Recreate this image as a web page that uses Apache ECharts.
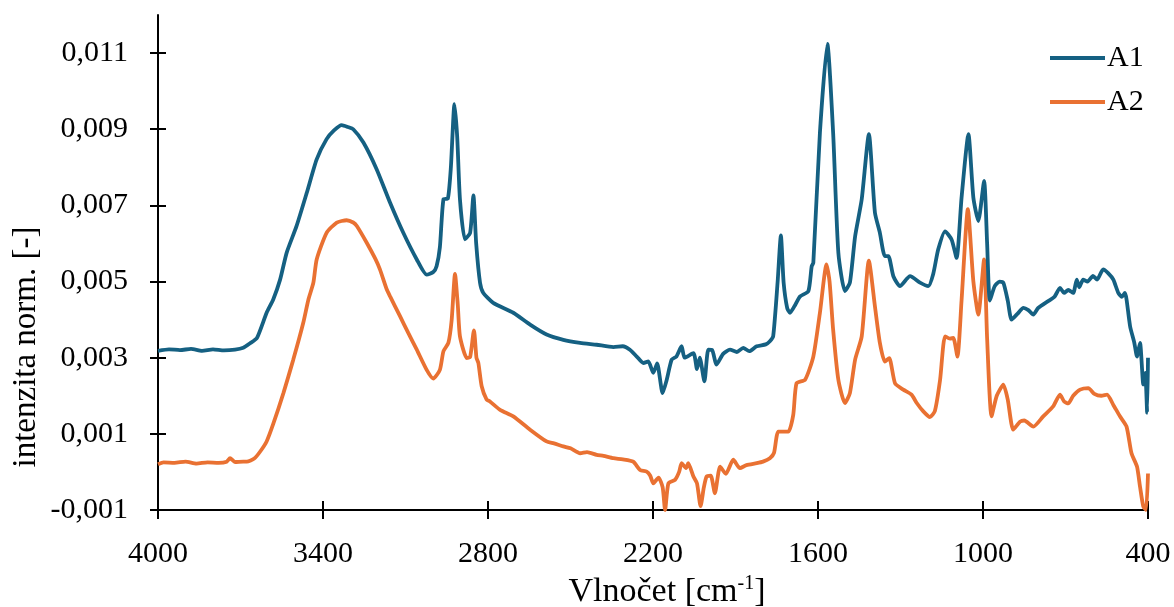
<!DOCTYPE html>
<html>
<head>
<meta charset="utf-8">
<script src="https://cdn.jsdelivr.net/npm/echarts@6/dist/echarts.min.js"></script>
<style>html,body{margin:0;padding:0;background:#fff}#c{width:1174px;height:607px}</style>
</head>
<body>
<div id="c"></div>
<script>
// ---- data (wavenumber [cm-1] and normalized intensity) ----
const seriesNames = ['A1', 'A2'];
const xTicks = [4000, 3400, 2800, 2200, 1600, 1000, 400];
const yTicks = [-0.001, 0.001, 0.003, 0.005, 0.007, 0.009, 0.011];

const a1Wave = [4000,3960,3920,3880,3840,3800,3760,3720,3690,3665,3640,3605,3581,3556,3532,3496,3459,3423,3387,3360,3332,3310,3290,3253,3205,3156,3108,3059,3023,2999,2987,2975,2962,2946,2935,2922,2912,2902,2884,2865,2853,2843,2829,2817,2781,2708,2647,2587,2526,2465,2405,2344,2310,2284,2259,2235,2217,2199,2185,2165,2150,2132,2115,2096,2085,2053,2040,2030,2013,1999,1985,1969,1945,1920,1895,1872,1850,1823,1790,1775,1763,1747,1735,1725,1712,1702,1682,1665,1635,1623,1617,1593,1566,1545,1526,1502,1484,1465,1441,1415,1393,1375,1357,1344,1326,1302,1265,1229,1199,1181,1163,1138,1114,1096,1078,1053,1035,1017,996,985,975,958,940,926,910,896,875,853,835,817,800,781,760,740,720,705,690,672,659,650,636,620,600,585,563,545,526,508,495,484,478,465,450,440,429,417,410,403,400];
const a1Val = [0.00318,0.00322,0.00320,0.00323,0.00318,0.00322,0.00319,0.00321,0.00326,0.00338,0.00352,0.00418,0.00453,0.00505,0.00576,0.00646,0.00733,0.00821,0.00874,0.00897,0.00911,0.00906,0.00900,0.00865,0.00795,0.00707,0.00628,0.00558,0.00518,0.00525,0.00540,0.00590,0.00716,0.00718,0.00800,0.00966,0.00880,0.00716,0.00611,0.00628,0.00726,0.00600,0.00497,0.00470,0.00444,0.00418,0.00387,0.00361,0.00347,0.00339,0.00334,0.00328,0.00330,0.00321,0.00303,0.00286,0.00290,0.00260,0.00285,0.00207,0.00242,0.00295,0.00303,0.00330,0.00300,0.00312,0.00270,0.00300,0.00238,0.00321,0.00320,0.00282,0.00310,0.00321,0.00315,0.00326,0.00317,0.00330,0.00335,0.00343,0.00356,0.00497,0.00621,0.00497,0.00430,0.00418,0.00440,0.00461,0.00475,0.00540,0.00549,0.00891,0.01124,0.00891,0.00576,0.00475,0.00497,0.00619,0.00716,0.00887,0.00681,0.00628,0.00567,0.00567,0.00514,0.00488,0.00514,0.00497,0.00488,0.00520,0.00584,0.00632,0.00610,0.00562,0.00720,0.00887,0.00720,0.00659,0.00764,0.00600,0.00450,0.00487,0.00500,0.00497,0.00450,0.00400,0.00415,0.00431,0.00425,0.00413,0.00430,0.00440,0.00450,0.00460,0.00483,0.00470,0.00478,0.00470,0.00505,0.00485,0.00505,0.00500,0.00515,0.00505,0.00532,0.00522,0.00505,0.00470,0.00460,0.00470,0.00453,0.00382,0.00340,0.00303,0.00339,0.00230,0.00260,0.00155,0.00300];

const a2Wave = [4000,3980,3940,3900,3860,3820,3780,3750,3738,3720,3690,3677,3650,3629,3605,3580,3544,3508,3472,3453,3435,3423,3387,3350,3314,3290,3277,3241,3210,3193,3168,3156,3120,3090,3059,3023,2999,2975,2962,2944,2932,2920,2910,2902,2877,2865,2851,2842,2835,2823,2805,2793,2756,2708,2647,2587,2560,2526,2500,2465,2440,2405,2380,2344,2310,2272,2247,2223,2210,2199,2180,2165,2156,2144,2120,2105,2096,2080,2072,2053,2040,2027,2015,2005,1990,1975,1956,1935,1908,1884,1860,1823,1800,1775,1760,1744,1708,1690,1678,1647,1617,1593,1569,1558,1545,1526,1502,1484,1465,1441,1415,1393,1375,1357,1341,1320,1290,1260,1241,1217,1193,1175,1156,1138,1120,1108,1093,1078,1055,1035,1017,996,985,969,950,926,910,890,865,850,817,781,745,720,705,690,672,647,617,595,570,549,526,502,478,460,440,429,417,407,400];
const a2Val = [0.00020,0.00025,0.00024,0.00027,0.00022,0.00025,0.00024,0.00027,0.00036,0.00026,0.00027,0.00027,0.00035,0.00053,0.00080,0.00128,0.00207,0.00295,0.00391,0.00453,0.00497,0.00558,0.00628,0.00655,0.00661,0.00655,0.00646,0.00602,0.00560,0.00532,0.00479,0.00461,0.00409,0.00365,0.00321,0.00268,0.00245,0.00268,0.00317,0.00339,0.00400,0.00520,0.00440,0.00356,0.00299,0.00302,0.00372,0.00300,0.00286,0.00225,0.00190,0.00185,0.00163,0.00146,0.00111,0.00080,0.00075,0.00067,0.00062,0.00049,0.00052,0.00045,0.00042,0.00036,0.00033,0.00027,0.00005,0.00001,-0.00010,-0.00030,-0.00015,-0.00040,-0.00100,-0.00030,-0.00021,0.00000,0.00023,0.00010,0.00023,-0.00012,-0.00030,-0.00090,-0.00040,-0.00012,-0.00010,-0.00056,0.00014,-0.00005,0.00032,0.00010,0.00018,0.00023,0.00027,0.00036,0.00050,0.00106,0.00106,0.00150,0.00233,0.00242,0.00303,0.00418,0.00545,0.00500,0.00374,0.00242,0.00181,0.00207,0.00295,0.00356,0.00555,0.00435,0.00339,0.00290,0.00299,0.00233,0.00216,0.00203,0.00181,0.00159,0.00144,0.00160,0.00242,0.00356,0.00350,0.00352,0.00303,0.00450,0.00690,0.00500,0.00413,0.00558,0.00350,0.00146,0.00200,0.00229,0.00190,0.00111,0.00132,0.00135,0.00119,0.00146,0.00172,0.00203,0.00185,0.00180,0.00200,0.00216,0.00220,0.00205,0.00200,0.00203,0.00176,0.00146,0.00119,0.00049,0.00014,-0.00039,-0.00091,-0.00100,-0.00004];

const colors = ['#156082', '#E97132'];
const FONT = '"Liberation Serif", "Times New Roman", serif';

function pairs(xs, ys) { return xs.map((x, i) => [x, ys[i]]); }
const fmtY = v => (Math.round(v * 1000) / 1000).toFixed(3).replace('.', ',');
const fmtX = v => String(Math.round(v));

const chart = echarts.init(document.getElementById('c'), null, { renderer: 'canvas' });
const axisLineStyle = { color: '#000', width: 2 };
const baseX = { type: 'value', min: 400, max: 4000, inverse: true, splitLine: { show: false } };
const baseY = { type: 'value', min: -0.001, max: 0.012, splitLine: { show: false } };

chart.setOption({
  animation: false,
  backgroundColor: '#fff',
  textStyle: { fontFamily: FONT },
  grid: { left: 158, right: 26, top: 15, bottom: 97, containLabel: false, outerBoundsMode: 'none' },
  legend: {
    data: seriesNames, orient: 'vertical', left: 1045, top: 38,
    itemWidth: 55, itemHeight: 4, icon: 'rect', itemGap: 14,
    textStyle: { fontFamily: FONT, fontSize: 30, color: '#000', lineHeight: 30, padding: [0, 0, 0, -3] }
  },
  xAxis: [
    Object.assign({}, baseX, {
      position: 'bottom',
      axisLine: { show: true, onZero: false, lineStyle: axisLineStyle },
      axisTick: { show: true, length: 9, lineStyle: axisLineStyle, customValues: xTicks },
      axisLabel: { customValues: xTicks, fontSize: 30, color: '#000', margin: 29, fontFamily: FONT, formatter: fmtX },
      name: '{n|Vlnočet [cm}{s|-1}{n|]}', nameLocation: 'middle', nameGap: 63,
      nameTextStyle: {
        padding: [0, 0, 0, 28],
        rich: {
          n: { fontSize: 34, fontFamily: FONT, color: '#000', lineHeight: 36 },
          s: { fontSize: 20, fontFamily: FONT, color: '#000', verticalAlign: 'top', lineHeight: 20 }
        }
      }
    }),
    Object.assign({}, baseX, {
      position: 'bottom',
      axisLine: { show: false, onZero: false },
      axisTick: { show: true, inside: true, length: 9, lineStyle: axisLineStyle, customValues: xTicks },
      axisLabel: { show: false }
    })
  ],
  yAxis: [
    Object.assign({}, baseY, {
      position: 'left',
      axisLine: { show: true, onZero: false, lineStyle: axisLineStyle },
      axisTick: { show: true, length: 8, lineStyle: axisLineStyle, customValues: yTicks },
      axisLabel: { customValues: yTicks, fontSize: 30, color: '#000', margin: 30, fontFamily: FONT, formatter: fmtY }
    }),
    Object.assign({}, baseY, {
      position: 'left',
      axisLine: { show: false, onZero: false },
      axisTick: { show: true, inside: true, length: 8, lineStyle: axisLineStyle, customValues: yTicks },
      axisLabel: { show: false }
    })
  ],
  graphic: [{
    type: 'text', x: 26, y: 347, rotation: Math.PI / 2,
    style: { text: 'intenzita norm. [-]', fontSize: 33, fontFamily: FONT, fill: '#000', align: 'center', verticalAlign: 'middle' }
  }],
  series: [
    { name: seriesNames[0], type: 'line', xAxisIndex: 0, yAxisIndex: 0, data: pairs(a1Wave, a1Val),
      showSymbol: false, smooth: 0.2, color: colors[0], lineStyle: { width: 3.8, color: colors[0] }, z: 3 },
    { name: seriesNames[1], type: 'line', xAxisIndex: 0, yAxisIndex: 0, data: pairs(a2Wave, a2Val),
      showSymbol: false, smooth: 0.2, color: colors[1], lineStyle: { width: 3.8, color: colors[1] }, z: 2 }
  ]
});
</script>
</body>
</html>
